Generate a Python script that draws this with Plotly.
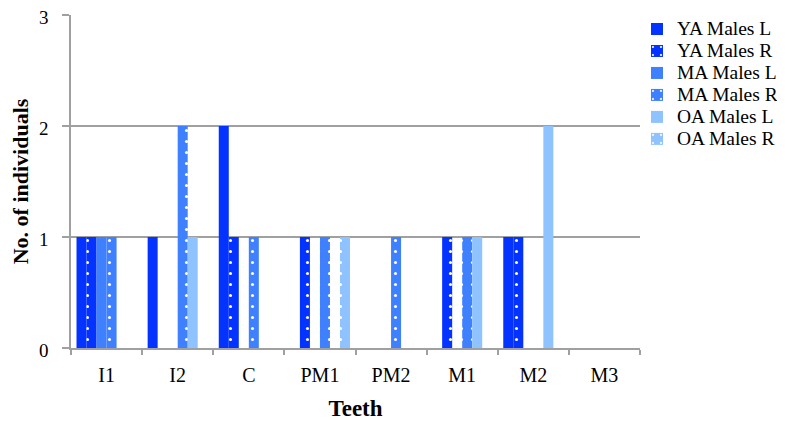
import plotly.graph_objects as go

categories = ["I1", "I2", "C", "PM1", "PM2", "M1", "M2", "M3"]
series_names = ["YA Males L", "YA Males R", "MA Males L", "MA Males R", "OA Males L", "OA Males R"]
ya_l = [1, 1, 2, 0, 0, 0, 1, 0]
ya_r = [1, 0, 1, 1, 0, 1, 1, 0]
ma_l = [1, 0, 0, 0, 0, 0, 0, 0]
ma_r = [1, 2, 1, 1, 1, 1, 0, 0]
oa_l = [0, 1, 0, 0, 0, 1, 2, 0]
oa_r = [0, 0, 0, 1, 0, 0, 0, 0]
y_ticks = [0, 1, 2, 3]

values = [ya_l, ya_r, ma_l, ma_r, oa_l, oa_r]
colors = ["#0433FF", "#0433FF", "#3F80FF", "#3F80FF", "#8EC3FF", "#8EC3FF"]
dotted = [False, True, False, True, False, True]

SERIF = "Liberation Serif, DejaVu Serif, serif"
GRID = "#A0A0A0"
fig = go.Figure()
for name, vals, col, dot in zip(series_names, values, colors, dotted):
    marker = dict(color=col, line=dict(width=0))
    if dot:
        marker["pattern"] = dict(shape=".", fgcolor="white", bgcolor=col,
                                 size=11, solidity=0.06, fillmode="replace")
    fig.add_trace(go.Bar(
        name='<span style="font-size:19.5px">' + name + '</span>',
        x=categories, y=vals, marker=marker))

# the page body adds an 8px offset at left/top, so the figure is 8px smaller
fig.update_layout(
    width=777, height=413,
    margin=dict(l=63, r=145, t=7, b=73, autoexpand=False),
    paper_bgcolor="white", plot_bgcolor="white",
    barmode="group", bargap=0.155, bargroupgap=0,
    font=dict(family=SERIF, size=20, color="black"),
    showlegend=True,
    legend=dict(x=0.9947, y=1.006, xanchor="left", yanchor="top",
                font=dict(family=SERIF, size=14.6, color="black"),
                tracegroupgap=0, itemwidth=30,
                bgcolor="rgba(0,0,0,0)"),
    xaxis=dict(
        type="category", categoryorder="array", categoryarray=categories,
        tickson="boundaries", ticks="outside", ticklen=5, tickcolor=GRID,
        tickwidth=1.5, showline=True, linecolor=GRID, linewidth=1.5,
        showgrid=False, automargin=False, ticklabelstandoff=8,
        title=dict(text="<b>Teeth</b>", font=dict(family=SERIF, size=23), standoff=18),
        tickfont=dict(family=SERIF, size=20),
    ),
    yaxis=dict(
        range=[0, 3], tickvals=y_ticks, ticks="outside", ticklen=7,
        tickcolor=GRID, tickwidth=1.5,
        showline=True, linecolor=GRID, linewidth=1.5,
        showgrid=True, gridcolor=GRID, gridwidth=1.5,
        zeroline=False, automargin=False, ticklabelstandoff=10,
        ticklabeloverflow="allow", ticklabelshift=2,
        title=dict(text="<b>No. of individuals</b>", font=dict(family=SERIF, size=22), standoff=6),
        tickfont=dict(family=SERIF, size=19),
    ),
)

fig.write_html("out.html")
